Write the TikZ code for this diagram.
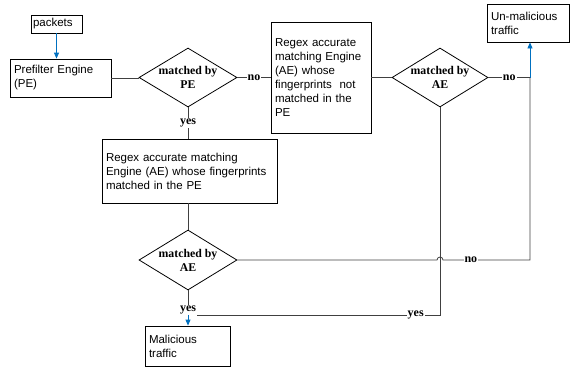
\documentclass[tikz,border=0pt]{standalone}
\usepackage{fontspec}
\setmainfont{Liberation Serif}
\setsansfont{Liberation Sans}
\usetikzlibrary{shapes.geometric,arrows.meta}
\definecolor{bl}{RGB}{0,112,192}
\begin{document}
\begin{tikzpicture}[x=1pt,y=1pt,
  box/.style={draw, line width=0.8pt, font=\sffamily\fontsize{11.5}{14}\selectfont, align=left, inner sep=4pt},
  dia/.style={draw, diamond, line width=0.8pt, minimum width=98pt, minimum height=59pt, inner sep=0pt},
  dlab/.style={font=\bfseries\fontsize{11.8}{14}\selectfont, align=center},
  lab/.style={fill=white, font=\bfseries\fontsize{12}{12}\selectfont, inner sep=1pt},
  conn/.style={line width=0.8pt, draw=black!75},
  blu/.style={line width=0.8pt, draw=bl, -{Triangle[length=6pt,width=5pt]}}]
\useasboundingbox (0,0) rectangle (570,-367);

\node[box, minimum width=51pt, minimum height=18pt, inner sep=2pt, text width=47pt] (packets) at (56.5,-24) {packets};
\node[box, minimum width=101pt, minimum height=38pt, text width=93pt] (pf) at (60.5,-78) {Prefilter Engine\\(PE)};
\node[dia, label={[dlab]center:matched by\\PE}] (d1) at (188,-77.5) {};
\node[box, minimum width=100pt, minimum height=111pt, text width=92pt] (b2) at (321,-77.5) {Regex accurate\\matching Engine\\(AE) whose\\fingerprints~ not\\matched in the\\PE};
\node[dia, minimum width=96pt, label={[dlab]center:matched by\\AE}] (d2) at (440,-77.5) {};
\node[box, minimum width=82pt, minimum height=38pt, text width=74pt] (um) at (528,-23) {Un-malicious\\traffic};
\node[box, minimum width=175pt, minimum height=64pt, text width=167pt] (b3) at (189.5,-171) {Regex accurate matching\\Engine (AE) whose fingerprints\\matched in the PE};
\node[dia, minimum height=60pt, label={[dlab]center:matched by\\AE}] (d3) at (188,-260) {};
\node[box, minimum width=85pt, minimum height=40pt, text width=77pt] (mal) at (187.5,-346) {Malicious\\traffic};

\coordinate (c1) at (530,-77.5);
\coordinate (c2) at (530,-260);
\coordinate (c3) at (440,-315);

\draw[blu] (packets.south) -- (packets.south |- pf.north);
\draw[conn] (pf.east) -- (pf.east -| d1.west);
\draw[conn] (d1.east) -- node[lab]{no} (b2.west);
\draw[conn] (b2.east) -- (d2.west);
\draw[conn] (d2.east) -- node[lab, pos=0.5]{no} (c1);
\draw[blu] (c1) -- (c1 |- um.south);
\draw[conn] (d1.south) -- node[lab]{yes} (d1.south |- b3.north);
\draw[conn] (b3.south -| d3.north) -- (d3.north);
\node[lab, inner sep=0.5pt] (ylab) at (188,-310) {yes};
\draw[conn] (d3.south) -- (ylab.north);
\draw[blu] (ylab.south) -- (ylab.south |- mal.north);
\draw[conn] (d2.south) -- (c3) -- node[lab, pos=0.1]{yes} (ylab.east |- c3);
\draw[conn] (c1) -- (c2) -- node[lab, pos=0.68]{no} (443,-260) arc (0:180:3) -- (d3.east);
\end{tikzpicture}
\end{document}
